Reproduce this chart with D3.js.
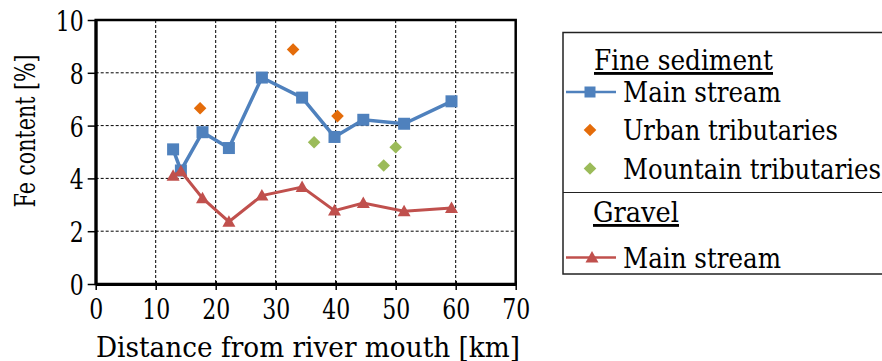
<!DOCTYPE html>
<html>
<head>
<meta charset="utf-8">
<script src="https://cdn.jsdelivr.net/npm/d3@7"></script>
<style>
  body { margin: 0; background: #fff; }
  svg text { font-family: "DejaVu Serif", serif; fill: #000; }
</style>
</head>
<body>
<div id="chart"></div>
<script>
// distances along the river [km]
const mainKm = [12.9, 14.2, 17.8, 22.2, 27.7, 34.4, 39.8, 44.6, 51.4, 59.3];
const fineMain = [5.1, 4.3, 5.75, 5.15, 7.82, 7.06, 5.57, 6.22, 6.07, 6.92];
const gravelMain = [4.1, 4.27, 3.25, 2.36, 3.35, 3.67, 2.78, 3.07, 2.76, 2.88];
const urbanKm = [17.4, 32.9, 40.3];
const urbanFe = [6.66, 8.88, 6.36];
const mountainKm = [36.4, 48.0, 50.0];
const mountainFe = [5.37, 4.49, 5.18];
const xTicks = [0, 10, 20, 30, 40, 50, 60, 70];
const yTicks = [0, 2, 4, 6, 8, 10];

const w = 882;
const h = 361;
const blue = "#4f81bd";
const red = "#c0504d";
const orange = "#e46c0a";
const green = "#9bbb59";

const svg = d3.select("#chart").append("svg").attr("width", w).attr("height", h);

const x = d3.scaleLinear().domain([0, 70]).range([95.7, 515.7]);
const y = d3.scaleLinear().domain([0, 10]).range([284, 20]);

// grid
svg.append("g")
  .selectAll("line")
  .data(xTicks.slice(1, -1))
  .enter()
  .append("line")
  .attr("x1", (d) => x(d)).attr("x2", (d) => x(d))
  .attr("y1", y(10)).attr("y2", y(0))
  .attr("stroke", "#000").attr("stroke-width", 1).attr("stroke-dasharray", "3,2");
svg.append("g")
  .selectAll("line")
  .data(yTicks.slice(1, -1))
  .enter()
  .append("line")
  .attr("x1", x(0)).attr("x2", x(70))
  .attr("y1", (d) => y(d)).attr("y2", (d) => y(d))
  .attr("stroke", "#000").attr("stroke-width", 1).attr("stroke-dasharray", "3,2");

// frame
svg.append("rect")
  .attr("x", x(0)).attr("y", y(10))
  .attr("width", x(70) - x(0)).attr("height", y(0) - y(10))
  .attr("fill", "none").attr("stroke", "#000").attr("stroke-width", 2.5);

// axes (the serif face is wider than the original, so squeeze the labels)
const xAxis = svg.append("g")
  .attr("transform", "translate(0," + y(0) + ")")
  .call(d3.axisBottom(x).tickValues(xTicks).tickSize(6).tickSizeOuter(0));
xAxis.attr("font-family", null);
xAxis.select(".domain").attr("stroke-width", 3);
xAxis.selectAll(".tick line").attr("y1", -3).attr("stroke-width", 1.5);
xAxis.selectAll(".tick text")
  .attr("y", 35).attr("dy", 0).attr("font-size", 28)
  .attr("textLength", (d) => String(d).length * 14).attr("lengthAdjust", "spacingAndGlyphs");

const yAxis = svg.append("g")
  .attr("transform", "translate(" + x(0) + ",0)")
  .call(d3.axisLeft(y).tickValues(yTicks).tickSize(8).tickSizeOuter(0));
yAxis.attr("font-family", null);
yAxis.select(".domain").attr("stroke-width", 3);
yAxis.selectAll(".tick line").attr("stroke-width", 1.5);
yAxis.selectAll(".tick text")
  .attr("x", -12).attr("dy", 0).attr("y", 10.5).attr("font-size", 28)
  .attr("textLength", (d) => String(d).length * 14).attr("lengthAdjust", "spacingAndGlyphs");

svg.append("text")
  .attr("x", 96).attr("y", 357)
  .attr("font-size", 28)
  .attr("textLength", 424).attr("lengthAdjust", "spacingAndGlyphs")
  .text("Distance from river mouth [km]");
svg.append("text")
  .attr("transform", "translate(35,131) rotate(-90)")
  .attr("text-anchor", "middle").attr("font-size", 27.5)
  .attr("textLength", 153).attr("lengthAdjust", "spacingAndGlyphs")
  .text("Fe content [%]");

// series
const line = d3.line().x((d) => x(d[0])).y((d) => y(d[1]));
const fine = mainKm.map((k, i) => [k, fineMain[i]]);
const gravel = mainKm.map((k, i) => [k, gravelMain[i]]);
const urban = urbanKm.map((k, i) => [k, urbanFe[i]]);
const mountain = mountainKm.map((k, i) => [k, mountainFe[i]]);

const sq = 12;
const tri = "M0,-6.5L6.5,5L-6.5,5Z";
const dia = "M0,-6.3L6.3,0L0,6.3L-6.3,0Z";

svg.append("path").datum(fine)
  .attr("d", line).attr("fill", "none").attr("stroke", blue).attr("stroke-width", 3.5);
svg.append("g").selectAll("rect").data(fine).enter().append("rect")
  .attr("x", (d) => x(d[0]) - sq / 2).attr("y", (d) => y(d[1]) - sq / 2)
  .attr("width", sq).attr("height", sq).attr("fill", blue);

svg.append("g").selectAll("path").data(urban).enter().append("path")
  .attr("d", dia).attr("fill", orange)
  .attr("transform", (d) => "translate(" + x(d[0]) + "," + y(d[1]) + ")");
svg.append("g").selectAll("path").data(mountain).enter().append("path")
  .attr("d", dia).attr("fill", green)
  .attr("transform", (d) => "translate(" + x(d[0]) + "," + y(d[1]) + ")");

svg.append("path").datum(gravel)
  .attr("d", line).attr("fill", "none").attr("stroke", red).attr("stroke-width", 3);
svg.append("g").selectAll("path").data(gravel).enter().append("path")
  .attr("d", tri).attr("fill", red)
  .attr("transform", (d) => "translate(" + x(d[0]) + "," + y(d[1]) + ")");

// legend
const lg = svg.append("g");
lg.append("rect")
  .attr("x", 563).attr("y", 32.5).attr("width", 340).attr("height", 241.5)
  .attr("fill", "#fff").attr("stroke", "#222").attr("stroke-width", 1.5);
lg.append("line")
  .attr("x1", 563).attr("x2", 882).attr("y1", 192.5).attr("y2", 192.5)
  .attr("stroke", "#222").attr("stroke-width", 1.2);

const fs = 28.5;
lg.append("text").attr("x", 594).attr("y", 70).attr("font-size", fs)
  .attr("textLength", 179).attr("lengthAdjust", "spacingAndGlyphs")
  .attr("text-decoration", "underline").text("Fine sediment");
lg.append("text").attr("x", 593).attr("y", 222).attr("font-size", fs)
  .attr("textLength", 86).attr("lengthAdjust", "spacingAndGlyphs")
  .attr("text-decoration", "underline").text("Gravel");

const entries = [
  { label: "Main stream", len: 158, y: 92, kind: "square", color: blue },
  { label: "Urban tributaries", len: 215, y: 130, kind: "diamond", color: orange },
  { label: "Mountain tributaries", len: 258, y: 168.5, kind: "diamond", color: green },
  { label: "Main stream", len: 158, y: 257.5, kind: "triangle", color: red },
];
entries.forEach((e) => {
  if (e.kind === "square" || e.kind === "triangle") {
    lg.append("line")
      .attr("x1", 566).attr("x2", 616).attr("y1", e.y).attr("y2", e.y)
      .attr("stroke", e.color).attr("stroke-width", 2.5);
  }
  if (e.kind === "square") {
    lg.append("rect").attr("x", 590 - 5.5).attr("y", e.y - 5.5)
      .attr("width", 11).attr("height", 11).attr("fill", e.color);
  } else {
    lg.append("path").attr("d", e.kind === "diamond" ? dia : tri)
      .attr("fill", e.color)
      .attr("transform", "translate(" + (e.kind === "triangle" ? 592 : 590) + "," + e.y + ")");
  }
  lg.append("text").attr("x", 623).attr("y", e.y + 10).attr("font-size", fs)
    .attr("textLength", e.len).attr("lengthAdjust", "spacingAndGlyphs").text(e.label);
});
</script>
</body>
</html>
